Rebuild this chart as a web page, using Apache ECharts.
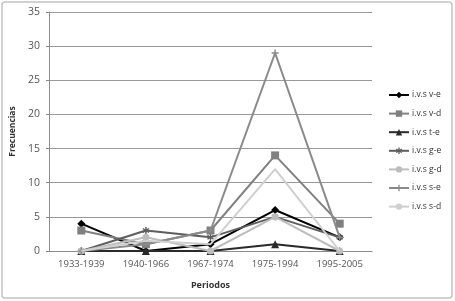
<!DOCTYPE html>
<html><head><meta charset="utf-8">
<script src="https://cdn.jsdelivr.net/npm/echarts@6/dist/echarts.min.js"></script>
<style>html,body{margin:0;padding:0;background:#fff}#c{width:455px;height:301px}</style>
</head><body><div id="c"></div>
<script>
const categories = ['1933-1939','1940-1966','1967-1974','1975-1994','1995-2005'];
const seriesNames = ['i.v.s v-e','i.v.s v-d','i.v.s t-e','i.v.s g-e','i.v.s g-d','i.v.s s-e','i.v.s s-d'];
const ve = [4, 0, 1, 6, 2];
const vd = [3, 1, 3, 14, 4];
const te = [0, 0, 0, 1, 0];
const ge = [0, 3, 2, 5, 2];
const gd = [0, 2, 0, 5, 0];
const se = [0, 1, 3, 29, 2];
const sd = [0, 1.5, 1, 12, 0];
const yTicks = [0, 5, 10, 15, 20, 25, 30, 35];

const plusPath = 'path://M4,0H6V4H10V6H6V10H4V6H0V4H4Z';
const astPath = 'path://M4,0H6V3.3L8.6,1.4L9.8,3L6.8,5L9.8,7L8.6,8.6L6,6.7V10H4V6.7L1.4,8.6L0.2,7L3.2,5L0.2,3L1.4,1.4L4,3.3Z';

const styles = [
  {data: ve, color: '#000000', symbol: 'diamond', size: 8},
  {data: vd, color: '#808080', symbol: 'rect', size: 8},
  {data: te, color: '#2a2a2a', symbol: 'triangle', size: 8},
  {data: ge, color: '#5e5e5e', symbol: astPath, size: 7},
  {data: gd, color: '#bdbdbd', symbol: 'circle', size: 7},
  {data: se, color: '#8a8a8a', symbol: plusPath, size: 7},
  {data: sd, color: '#cfcfcf', symbol: 'none', size: 0}
];

const chart = echarts.init(document.getElementById('c'), null, {renderer: 'canvas'});
chart.setOption({
  animation: false,
  backgroundColor: '#fff',
  graphic: [{type: 'rect', shape: {x: 2, y: 2, width: 450, height: 296, r: 3}, style: {fill: 'none', stroke: '#c4c4c4', lineWidth: 1.5}, z: -1}],
  grid: {left: 49, right: 83, top: 12, bottom: 50},
  legend: {
    orient: 'vertical', left: 388, top: 89, padding: 0,
    itemWidth: 20, itemHeight: 8, itemGap: 6.6,
    textStyle: {fontFamily: 'Open Sans', fontSize: 8.5, color: '#333', lineHeight: 12, padding: [0,0,0,-2]},
    data: seriesNames
  },
  xAxis: {
    type: 'category', data: categories, boundaryGap: true,
    name: 'Periodos', nameLocation: 'middle', nameGap: 30,
    nameTextStyle: {fontFamily: 'Open Sans', fontSize: 9, fontWeight: 'bold', color: '#333'},
    axisLine: {lineStyle: {color: '#8c8c8c', width: 1}},
    axisTick: {show: false},
    axisLabel: {fontFamily: 'Open Sans', fontSize: 9.5, color: '#555', margin: 8}
  },
  yAxis: {
    type: 'value', min: 0, max: 35, interval: 5,
    name: 'Frecuencias', nameLocation: 'middle', nameGap: 27,
    nameTextStyle: {fontFamily: 'Open Sans', fontSize: 8.5, fontWeight: 'bold', color: '#333'},
    axisLine: {show: true, lineStyle: {color: '#8c8c8c', width: 1}},
    axisTick: {show: true, length: 3, lineStyle: {color: '#8c8c8c'}},
    splitLine: {lineStyle: {color: '#9a9a9a', width: 1}},
    axisLabel: {fontFamily: 'Open Sans', fontSize: 10.5, color: '#555', margin: 9,
      formatter: v => yTicks.includes(v) ? String(v) : ''}
  },
  series: styles.map((s, i) => ({
    name: seriesNames[i], type: 'line', data: s.data,
    symbol: s.symbol, symbolSize: s.size, showSymbol: s.symbol !== 'none',
    lineStyle: {color: s.color, width: 2},
    itemStyle: {color: s.color, borderWidth: 0},
    z: 2 + i
  }))
});
</script></body></html>
